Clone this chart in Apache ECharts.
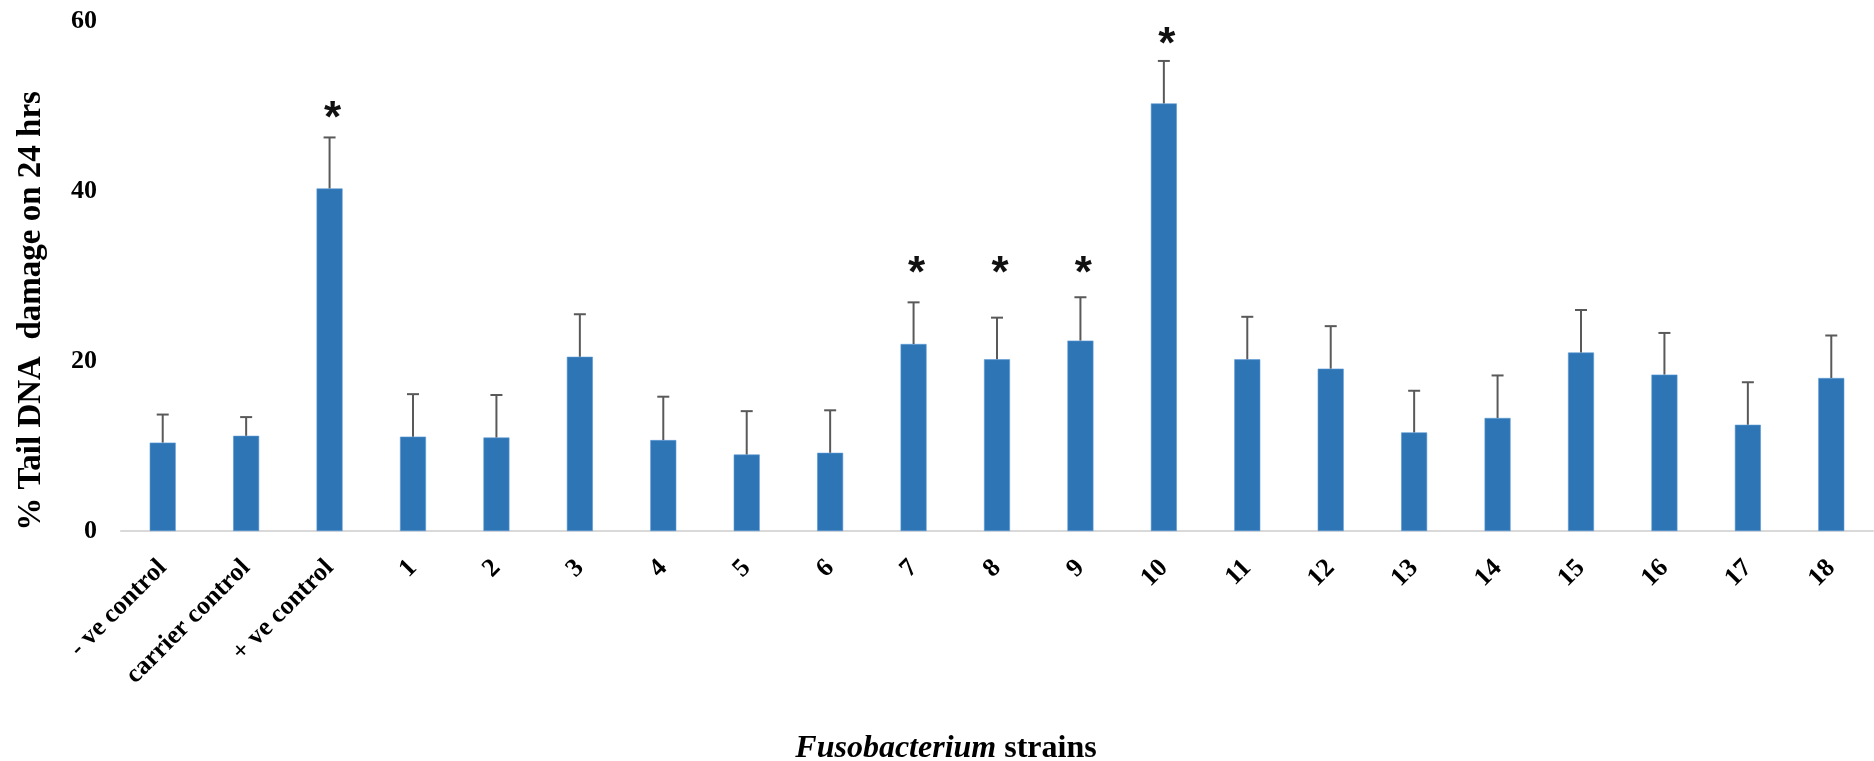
<!DOCTYPE html>
<html>
<head>
<meta charset="utf-8">
<script src="https://cdn.jsdelivr.net/npm/echarts@6/dist/echarts.min.js"></script>
<style>
html,body{margin:0;padding:0;background:#fff;}
#chart{width:1874px;height:761px;}
</style>
</head>
<body>
<div id="chart"></div>
<script>
const categories = ['- ve control','carrier control','+ ve control','1','2','3','4','5','6','7','8','9','10','11','12','13','14','15','16','17','18'];
const means = [10.4, 11.2, 40.3, 11.1, 11.0, 20.5, 10.7, 9.0, 9.2, 22.0, 20.2, 22.4, 50.3, 20.2, 19.1, 11.6, 13.3, 21.0, 18.4, 12.5, 18.0];
const errors = [3.3, 2.2, 6.0, 5.0, 5.0, 5.0, 5.1, 5.1, 5.0, 4.9, 4.9, 5.1, 5.0, 5.0, 5.0, 4.9, 5.0, 5.0, 4.9, 5.0, 5.0];
const starCategories = ['+ ve control','7','8','9','10'];
const starY = [49.4, 31.2, 31.2, 31.2, 58.1];
const yTicks = [0, 20, 40, 60];
const yTitle = '% Tail DNA  damage on 24 hrs';
const xTitleItalic = 'Fusobacterium';
const xTitleRest = ' strains';

const serif = '"Liberation Serif", "Times New Roman", serif';
const chart = echarts.init(document.getElementById('chart'));

const errData = categories.map((c, i) => [i, means[i], errors[i]]);
const starData = starCategories.map((c, i) => [categories.indexOf(c), starY[i]]);

chart.setOption({
  animation: false,
  backgroundColor: '#ffffff',
  grid: { left: 121, right: 1, top: 21, bottom: 230, containLabel: false },
  xAxis: {
    type: 'category',
    data: categories,
    axisLine: { show: true, lineStyle: { color: '#D9D9D9', width: 2 } },
    axisTick: { show: false },
    axisLabel: {
      interval: 0, rotate: 45, margin: 33,
      fontFamily: serif, fontWeight: 'bold', fontSize: 26, color: '#000'
    }
  },
  yAxis: {
    type: 'value',
    min: yTicks[0], max: yTicks[yTicks.length - 1], interval: 20,
    axisLine: { show: false },
    axisTick: { show: false },
    splitLine: { show: false },
    axisLabel: {
      margin: 24,
      fontFamily: serif, fontWeight: 'bold', fontSize: 26, color: '#000'
    }
  },
  series: [
    {
      type: 'bar',
      data: means,
      barWidth: 26,
      itemStyle: { color: '#2E75B6', borderColor: '#5B9BD5', borderWidth: 0.6 }
    },
    {
      type: 'custom',
      data: errData,
      z: 5,
      renderItem: function (params, api) {
        const x = api.value(0), m = api.value(1), e = api.value(2);
        const base = api.coord([x, m]);
        const top = api.coord([x, m + e]);
        const st = { stroke: '#595959', lineWidth: 2 };
        return {
          type: 'group',
          children: [
            { type: 'line', shape: { x1: base[0], y1: base[1], x2: top[0], y2: top[1] }, style: st },
            { type: 'line', shape: { x1: top[0] - 6, y1: top[1], x2: top[0] + 6, y2: top[1] }, style: st }
          ]
        };
      }
    },
    {
      type: 'custom',
      data: starData,
      z: 6,
      renderItem: function (params, api) {
        const p = api.coord([api.value(0), api.value(1)]);
        return {
          type: 'text',
          x: p[0] + 3, y: p[1] + 9,
          style: {
            text: '*', fill: '#111',
            fontFamily: '"Liberation Sans", Arial, sans-serif', fontWeight: 'bold', fontSize: 44,
            align: 'center', verticalAlign: 'middle'
          }
        };
      }
    }
  ],
  graphic: [
    {
      type: 'text', x: 31, y: 311, rotation: Math.PI / 2,
      style: {
        text: yTitle, fill: '#000',
        fontFamily: serif, fontWeight: 'bold', fontSize: 33,
        align: 'center', verticalAlign: 'middle'
      }
    },
    {
      type: 'text', x: 946, y: 749,
      style: {
        text: '{i|' + xTitleItalic + '}{b|' + xTitleRest + '}',
        fill: '#000', align: 'center', verticalAlign: 'middle',
        rich: {
          i: { fontFamily: serif, fontWeight: 'bold', fontStyle: 'italic', fontSize: 32, fill: '#000' },
          b: { fontFamily: serif, fontWeight: 'bold', fontSize: 32, fill: '#000' }
        }
      }
    }
  ]
});
</script>
</body>
</html>
